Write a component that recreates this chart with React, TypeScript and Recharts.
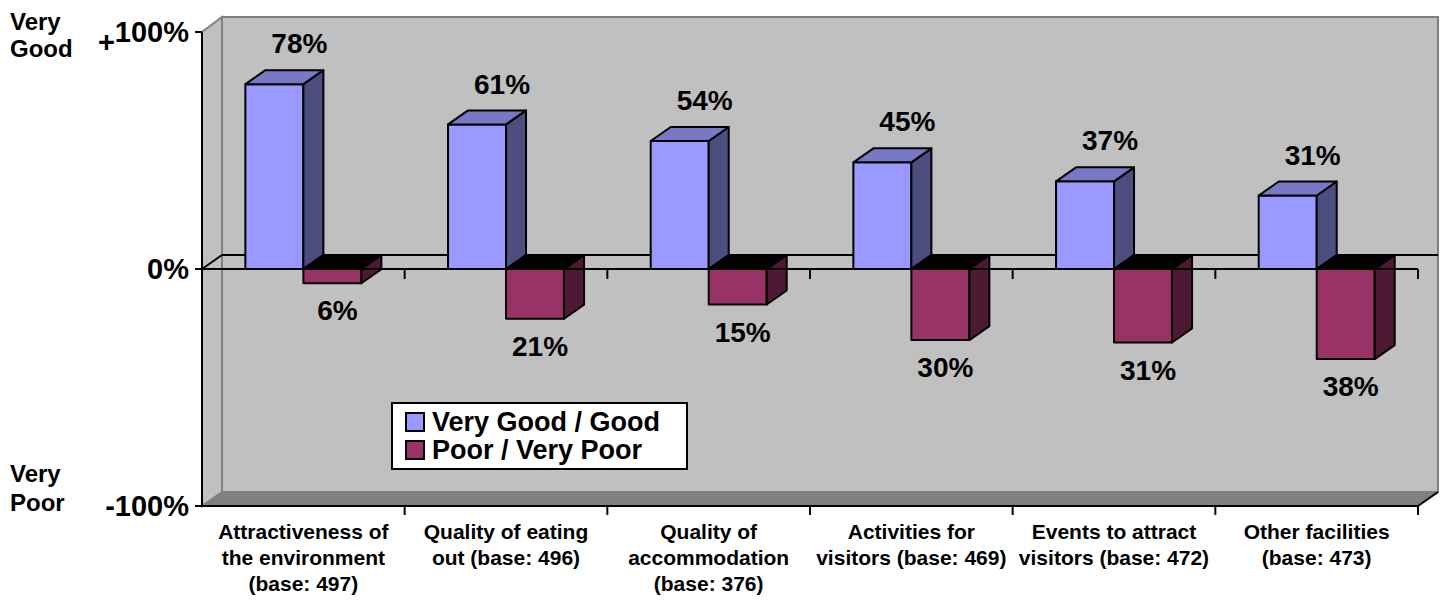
import React from "react";
import { Bar, BarChart, LabelList, Legend, ReferenceLine, XAxis, YAxis } from "recharts";

const categories = [
  "Attractiveness of\nthe environment\n(base: 497)",
  "Quality of eating\nout (base: 496)",
  "Quality of\naccommodation\n(base: 376)",
  "Activities for\nvisitors (base: 469)",
  "Events to attract\nvisitors (base: 472)",
  "Other facilities\n(base: 473)",
];
const goodValues = [78, 61, 54, 45, 37, 31];
const poorValues = [-6, -21, -15, -30, -31, -38];
const yTicks = [-100, 0, 100];
const yTickLabels = ["-100%", "0%", "100%"];

const data = categories.map((name, i) => ({
  name,
  good: goodValues[i],
  poor: poorValues[i],
}));

const W = 1447;
const H = 605;
const LEFT = 202;
const RIGHT = 1418;
const TOP = 32;
const BOTTOM = 506;
const ZERO = (TOP + BOTTOM) / 2;
const DX = 20;
const DY = -14;
const BAND = (RIGHT - LEFT) / categories.length;
const FONT = "'Liberation Sans', Arial, sans-serif";

const BLUE = { front: "#9999FF", side: "#4D4D80", top: "#7878C4" };
const RED = { front: "#993366", side: "#4D1933", top: "#000000" };

function Bar3D(props: any, colors: typeof BLUE) {
  const { x, y, width, height } = props;
  const a = Math.min(y, y + height);
  const b = Math.max(y, y + height);
  const w = width;
  const s = { stroke: "#000", strokeWidth: 2, strokeLinejoin: "round" as const };
  return (
    <g>
      <rect x={x} y={a} width={w} height={b - a} fill={colors.front} {...s} />
      <polygon
        points={`${x + w},${b} ${x + w + DX},${b + DY} ${x + w + DX},${a + DY} ${x + w},${a}`}
        fill={colors.side}
        {...s}
      />
      <polygon
        points={`${x},${a} ${x + DX},${a + DY} ${x + w + DX},${a + DY} ${x + w},${a}`}
        fill={colors.top}
        {...s}
      />
    </g>
  );
}

function GoodLabel(props: any) {
  const { x, y, width, value } = props;
  return (
    <text x={x + width / 2 + 25} y={y - 41} dy="0.36em" textAnchor="middle"
      fontFamily={FONT} fontWeight="bold" fontSize={28} fill="#000">
      {`${Math.abs(value)}%`}
    </text>
  );
}

function PoorLabel(props: any) {
  const { x, y, width, height, value } = props;
  const b = Math.max(y, y + height);
  return (
    <text x={x + width / 2 + 5} y={b + 27} dy="0.36em" textAnchor="middle"
      fontFamily={FONT} fontWeight="bold" fontSize={28} fill="#000">
      {`${Math.abs(value)}%`}
    </text>
  );
}

function CategoryTick(props: any) {
  const { x, payload, index } = props;
  const lines = String(payload.value).split("\n");
  const left = x - BAND / 2;
  const right = x + BAND / 2;
  const last = index === categories.length - 1;
  return (
    <g>
      {index > 0 && <line x1={left} y1={BOTTOM} x2={left} y2={BOTTOM + 9} stroke="#000" strokeWidth={2} />}
      {last && <line x1={right} y1={BOTTOM} x2={right} y2={BOTTOM + 9} stroke="#000" strokeWidth={2} />}
      {index > 0 && <line x1={left} y1={ZERO} x2={left} y2={ZERO + 10} stroke="#000" strokeWidth={2} />}
      {last && <line x1={right} y1={ZERO} x2={right} y2={ZERO + 10} stroke="#000" strokeWidth={2} />}
      <text textAnchor="middle" fontFamily={FONT} fontWeight="bold" fontSize={21} fill="#000">
        {lines.map((l, i) => (
          <tspan key={i} x={x} y={BOTTOM + 33 + i * 26}>{l}</tspan>
        ))}
      </text>
    </g>
  );
}

function ValueTick(props: any) {
  const { y, payload } = props;
  const idx = yTicks.indexOf(payload.value);
  const label = yTickLabels[idx];
  return (
    <g>
      <line x1={LEFT - 7} y1={y} x2={LEFT} y2={y} stroke="#000" strokeWidth={2} />
      <text x={LEFT - 13} y={y} dy="0.36em" textAnchor="end" fontFamily={FONT}
        fontWeight="bold" fontSize={29} fill="#000">
        {payload.value > 0 ? (
          <>
            <tspan dy="0.7em">+</tspan>
            <tspan dy="-0.34em">{label}</tspan>
          </>
        ) : (
          label
        )}
      </text>
    </g>
  );
}

function LegendBox() {
  const items = [
    { label: "Very Good / Good", color: BLUE.front },
    { label: "Poor / Very Poor", color: RED.front },
  ];
  return (
    <div style={{
      background: "#fff", border: "2px solid #000", boxSizing: "border-box",
      width: 297, height: 68, padding: "4px 0 0 12px", fontFamily: FONT,
      fontWeight: "bold", fontSize: 27, lineHeight: "28px", color: "#000",
    }}>
      {items.map((it) => (
        <div key={it.label} style={{ display: "flex", alignItems: "center", height: 28 }}>
          <span style={{
            display: "inline-block", width: 16, height: 16, background: it.color,
            border: "2px solid #000", marginRight: 7,
          }} />
          <span>{it.label}</span>
        </div>
      ))}
    </div>
  );
}

function Backdrop() {
  const BL = LEFT + DX;
  const BR = RIGHT + DX;
  const BT = TOP + DY - 1;
  const BB = BOTTOM + DY;
  return (
    <svg width={W} height={H} style={{ position: "absolute", left: 0, top: 0 }}>
      <rect x={BL} y={BT} width={BR - BL} height={BB - BT} fill="#C0C0C0" stroke="#808080" strokeWidth={2} />
      <polygon points={`${LEFT},${TOP} ${BL},${BT} ${BL},${BB} ${LEFT},${BOTTOM}`}
        fill="#C0C0C0" stroke="#808080" strokeWidth={2} />
      <polygon points={`${LEFT},${BOTTOM} ${BL},${BB} ${BR},${BB} ${RIGHT},${BOTTOM}`}
        fill="#808080" stroke="#808080" strokeWidth={1} />
      <line x1={RIGHT} y1={BOTTOM} x2={BR} y2={BB} stroke="#000" strokeWidth={2} />
      <line x1={LEFT} y1={ZERO} x2={BL} y2={ZERO + DY} stroke="#000" strokeWidth={2} />
      <line x1={BL} y1={ZERO + DY} x2={BR} y2={ZERO + DY} stroke="#000" strokeWidth={2} />
      <g fontFamily={FONT} fontWeight="bold" fontSize={24} fill="#000">
        <text x={10} y={30}>Very</text>
        <text x={10} y={57}>Good</text>
        <text x={10} y={482}>Very</text>
        <text x={10} y={511}>Poor</text>
      </g>
    </svg>
  );
}

export default function App() {
  return (
    <div style={{ position: "absolute", left: 0, top: 0, width: W, height: H, background: "#fff" }}>
      <Backdrop />
      <div style={{ position: "absolute", left: 0, top: 0 }}>
        <BarChart
          width={W}
          height={H}
          data={data}
          margin={{ top: TOP, right: W - RIGHT, bottom: H - BOTTOM - 60, left: LEFT - 110 }}
          barGap={0}
          barCategoryGap="21.4%"
        >
          <XAxis
            dataKey="name"
            height={60}
            interval={0}
            tickLine={false}
            axisLine={{ stroke: "#000", strokeWidth: 2 }}
            tick={<CategoryTick />}
          />
          <YAxis
            width={110}
            domain={[-100, 100]}
            ticks={yTicks}
            tickLine={false}
            axisLine={{ stroke: "#000", strokeWidth: 2 }}
            tick={<ValueTick />}
          />
          <Legend
            layout="horizontal"
            verticalAlign="middle"
            align="center"
            wrapperStyle={{ left: 391, top: 402, width: 297, height: 68 }}
            content={<LegendBox />}
          />
          <Bar dataKey="good" name="Very Good / Good" fill={BLUE.front} isAnimationActive={false}
            shape={(p: any) => Bar3D(p, BLUE)}>
            <LabelList dataKey="good" content={<GoodLabel />} />
          </Bar>
          <Bar dataKey="poor" name="Poor / Very Poor" fill={RED.front} isAnimationActive={false}
            shape={(p: any) => Bar3D(p, RED)}>
            <LabelList dataKey="poor" content={<PoorLabel />} />
          </Bar>
          <ReferenceLine y={0} stroke="#000" strokeWidth={2} />
        </BarChart>
      </div>
    </div>
  );
}
